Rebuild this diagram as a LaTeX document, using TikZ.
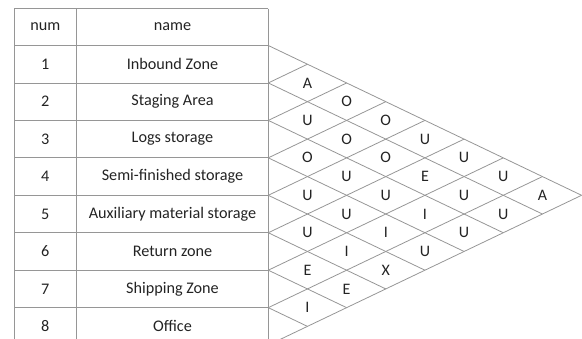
\documentclass[tikz,border=0pt]{standalone}
\usepackage{fontspec}
\setmainfont{Carlito}
\definecolor{linegray}{RGB}{150,150,150}
\definecolor{txt}{RGB}{35,35,35}
\begin{document}
\begin{tikzpicture}[x=1pt,y=-1pt,
  tline/.style={draw=linegray, line width=0.8pt},
  gline/.style={draw=linegray, line width=0.8pt},
  cell/.style={text=txt, font=\fontsize{16.2}{19}\selectfont, inner sep=0pt, anchor=center},
  rel/.style={text=txt, font=\fontsize{16}{19}\selectfont, inner sep=0pt, anchor=center}]
\useasboundingbox (0,0) rectangle (582,339);
\clip (0,0) rectangle (582,339);
\def\xL{14}\def\xD{76.7}\def\xR{268.3}\def\yT{8.7}
\def\yH{45.5}\def\rh{37.45}\def\hw{39.16}
% table
\draw[tline] (\xL,\yT) -- (\xR,\yT);
\draw[tline] (\xL,\yT) -- (\xL,360);
\draw[tline] (\xD,\yT) -- (\xD,360);
\draw[tline] (\xR,\yT) -- (\xR,360);
\foreach \k in {0,...,8} {
  \draw[tline] (\xL,{\yH+\k*\rh}) -- (\xR,{\yH+\k*\rh});
}
% header
\node[cell] (hnum) at ({(\xL+\xD)/2},{(\yT+\yH)/2}) {num};
\node[cell] (hname) at ({(\xD+\xR)/2},{(\yT+\yH)/2}) {name};
\foreach \r/\nm in {1/Inbound Zone,2/Staging Area,3/Logs storage,4/Semi-finished storage,5/Auxiliary material storage,6/Return zone,7/Shipping Zone,8/Office} {
  \node[cell] (num\r) at ({(\xL+\xD)/2},{\yH+(\r-0.5)*\rh}) {\r};
  \node[cell] (name\r) at ({(\xD+\xR)/2},{\yH+(\r-0.5)*\rh}) {\nm};
}
% diamond grid
\foreach \k in {0,...,8} {
  \draw[gline] (\xR,{\yH+\k*\rh}) -- ({\xR+(8-\k)*\hw},{\yH+\k*\rh+(8-\k)*\rh/2});
  \draw[gline] (\xR,{\yH+\k*\rh}) -- ({\xR+\k*\hw},{\yH+\k*\rh-\k*\rh/2});
}
% relationship letters: i/j/letter
\foreach \i/\j/\L in {1/2/A,2/3/U,3/4/O,4/5/U,5/6/U,6/7/E,7/8/I,
  1/3/O,2/4/O,3/5/U,4/6/U,5/7/I,6/8/E,
  1/4/O,2/5/O,3/6/U,4/7/I,5/8/X,
  1/5/U,2/6/E,3/7/I,4/8/U,
  1/6/U,2/7/U,3/8/U,
  1/7/U,2/8/U,
  1/8/A} {
  \node[rel] (r\i-\j) at ({\xR+(\j-\i)*\hw},{\yH+((\i+\j)/2-0.5)*\rh}) {\L};
}
\end{tikzpicture}
\end{document}
